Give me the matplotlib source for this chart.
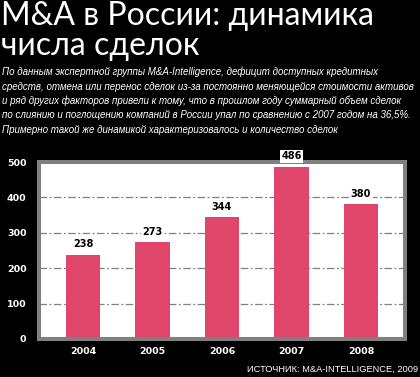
import matplotlib.pyplot as plt

years = ["2004", "2005", "2006", "2007", "2008"]
deals = [238, 273, 344, 486, 380]
y_ticks = [0, 100, 200, 300, 400, 500]

title = "M&A в России: динамика\nчисла сделок"
subtitle = [
    "По данным экспертной группы M&A-Intelligence, дефицит доступных кредитных",
    "средств, отмена или перенос сделок из-за постоянно меняющейся стоимости активов",
    "и ряд других факторов привели к тому, что в прошлом году суммарный объем сделок",
    "по слиянию и поглощению компаний в России упал по сравнению с 2007 годом на 36,5%.",
    "Примерно такой же динамикой характеризовалось и количество сделок",
]
source = "ИСТОЧНИК: M&A-INTELLIGENCE, 2009"

W, H = 420, 377
BAR = "#e0466a"
FRAME = "#808080"

fig = plt.figure(figsize=(W / 100, H / 100), dpi=100, facecolor="black")
renderer = fig.canvas.get_renderer()


def px(x, y):
    return x / W, 1 - y / H


def fit(txt, width):
    # shrink the font until the text is no wider than `width` pixels
    size = txt.get_fontsize()
    w = txt.get_window_extent(renderer).width
    if w > width:
        txt.set_fontsize(size * width / w)


# title and lead text
fig.text(*px(1, 1), title, color="white", fontsize=23, family="Lato",
         va="top", ha="left", linespacing=1.0)
lead = []
for i, line in enumerate(subtitle):
    t = fig.text(*px(2, 72 + i * 14.5), line, color="white", fontsize=9,
                 family="Liberation Sans", style="italic",
                 va="center", ha="left")
    lead.append(t)
fit(lead[1], 415)
for t in lead:
    t.set_fontsize(lead[1].get_fontsize())

# plot area
left, right, top, bottom = 39, 405, 162, 339
ax = fig.add_axes([left / W, 1 - bottom / H, (right - left) / W,
                   (bottom - top) / H])
ax.set_facecolor("white")
x = list(range(len(years)))
ax.bar(x, deals, width=0.5, color=BAR, zorder=2)
ax.set_xlim(-0.633, 4.633)
ax.set_ylim(0, 500)
ax.set_yticks(y_ticks)
ax.set_xticks(x, years)
ax.yaxis.grid(True, color=FRAME, linestyle=(0, (6, 2, 1.5, 2)),
              linewidth=0.9, zorder=1)
ax.set_axisbelow(True)
for s in ax.spines.values():
    s.set_color(FRAME)
    s.set_linewidth(2.9)
    s.set_zorder(3)
ax.tick_params(length=0, colors="white", labelsize=6.8)
ax.tick_params(axis="y", pad=9)
ax.tick_params(axis="x", pad=6)
for lab in ax.get_xticklabels() + ax.get_yticklabels():
    lab.set_fontweight("bold")

for xi, v in zip(x, deals):
    ax.annotate(str(v), (xi, v), xytext=(0, 4), textcoords="offset points",
                ha="center", va="bottom", fontsize=7, fontweight="bold",
                color="black", zorder=5, annotation_clip=False,
                bbox=dict(boxstyle="square,pad=0.15", fc="white", ec="none"))

src = fig.text(*px(418, 369), source, color="white", fontsize=9,
               family="Liberation Sans", ha="right", va="center")
fit(src, 170)

fig.savefig("out.png", dpi=100, facecolor="black")
